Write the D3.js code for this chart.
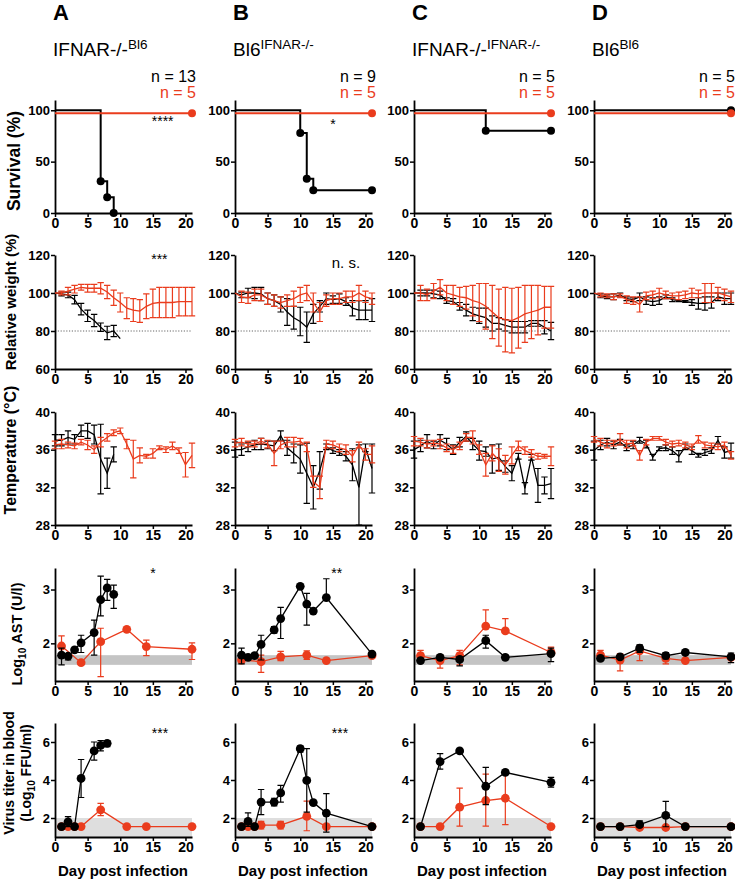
<!DOCTYPE html>
<html lang="en">
  <head>
    <meta charset="utf-8" />
    <script src="https://d3js.org/d3.v7.min.js"></script>
    <style>
      body { margin: 0; background: #fff; }
      text { font-family: "Liberation Sans", Arial, sans-serif; }
    </style>
  </head>
  <body>
    <script>
      // ---------- data ----------
      let letters = ["A", "B", "C", "D"];
      let titleMain = ["IFNAR-/-", "Bl6", "IFNAR-/-", "Bl6"];
      let titleSup = ["Bl6", "IFNAR-/-", "IFNAR-/-", "Bl6"];
      let nBlack = [13, 9, 5, 5];
      let nRed = [5, 5, 5, 5];
      let dayTicks = [0, 5, 10, 15, 20];

      // survival (Kaplan-Meier steps)
      let survDaysBlack = [[0, 7, 8, 9], [0, 10, 11, 12, 21], [0, 11, 21], [0, 21]];
      let survBlack = [[100, 30.8, 15.4, 0], [100, 77.8, 33.3, 22.2, 22.2], [100, 80, 80], [100, 100]];
      let survDaysRed = [[0, 21], [0, 21], [0, 21], [0, 21]];
      let survRed = [[97, 97], [97, 97], [97, 97], [97, 97]];

      // relative weight (%), days 0..21
      let weightDays = [0, 1, 2, 3, 4, 5, 6, 7, 8, 9, 10, 11, 12, 13, 14, 15, 16, 17, 18, 19, 20, 21];
      let weightBlack = [
        [100, 99.5, 99, 96.5, 91.5, 88, 85.5, 82, 79, 80, 76],
        [100, 99, 100, 100, 99.5, 97, 96, 94, 90, 87, 85, 82, 89, 93, 97, 96.5, 97, 95.5, 92, 91, 91, 91],
        [100, 100, 100, 99.5, 99, 96, 95.5, 93, 91, 89, 88, 87, 84, 84, 83, 82, 82, 82, 84, 84, 82, 80],
        [100, 98.5, 98, 98, 99, 97, 96.5, 98, 96, 95.5, 96, 98, 96.5, 96, 95.5, 95, 94.5, 94.5, 95, 98, 97, 97]
      ];
      let weightBlackSd = [
        [0, 1, 1.5, 2.2, 3, 3, 3.2, 2.2, 3.5, 3, 0],
        [0, 1.5, 2.5, 3, 3.5, 3, 3, 4, 7, 6, 7.5, 8, 5, 3, 3, 2, 2.5, 2, 4, 5, 5, 6],
        [0, 1.5, 1.5, 2, 2, 1.5, 1.5, 2, 3, 3.5, 4, 5, 4, 3, 3, 3, 3, 3, 1.5, 1.5, 3.5, 4.5],
        [0, 1, 1, 1.5, 1, 1, 1, 2, 2, 2, 2, 1, 1, 0.5, 0.5, 1.5, 3, 3.5, 3, 2, 3, 3]
      ];
      let weightRed = [
        [100, 100, 101, 102, 103, 102.5, 102.5, 102.5, 100.5, 97.5, 95, 92, 91, 90.5, 93, 94.5, 95, 95, 95, 95.5, 95.5, 95.5],
        [100, 98, 97.5, 99, 99, 97, 96, 95, 96, 97, 99, 100, 95, 90, 96, 97, 97, 98, 98, 100, 98, 97],
        [100, 100, 99, 101, 103, 100, 99, 98, 97.5, 96, 95, 93, 90, 87, 86, 85.5, 87, 89, 90, 91, 92.5, 92.5],
        [100, 99, 98.5, 98, 98.5, 96.5, 96, 94, 98.5, 99, 100, 99, 98.5, 98.5, 99, 100, 99.5, 100, 100, 100, 99, 98]
      ];
      let weightRedSd = [
        [0, 1, 2, 2, 1.5, 2, 2, 3, 3.5, 4, 5, 5.5, 6, 6, 6.5, 7.5, 8, 8, 8, 7.5, 7.5, 7.5],
        [0, 3, 3, 3, 3, 3, 3, 3, 3, 4, 4, 4, 5, 5, 3, 3, 3, 3, 3, 4, 3, 3],
        [0, 4, 3, 4, 4, 4, 5, 5, 6, 8, 10, 12, 14, 15, 17, 17, 16, 15, 14, 13, 11, 11],
        [0, 1, 1, 1.5, 1, 2, 2, 4, 2, 2, 2.5, 2, 1.5, 2, 2, 2.5, 2, 5, 5, 3, 3, 3]
      ];

      // temperature (°C), days 0..21
      let tempBlack = [
        [37.0, 37.0, 37.3, 37.1, 38.0, 38.0, 37.6, 35.0, 33.5, 35.5],
        [36.0, 36.0, 36.3, 36.5, 36.6, 36.5, 36.4, 37.5, 36.2, 35.6, 35.0, 33.5, 32.0, 33.8, 36.3, 35.9, 35.7, 35.3, 34.4, 32.0, 36.2, 34.0],
        [36.0, 36.4, 36.9, 36.5, 37.0, 36.6, 36.0, 36.8, 37.4, 36.6, 35.9, 35.8, 35.0, 35.2, 34.2, 33.5, 35.3, 31.9, 35.2, 32.2, 32.2, 32.4],
        [35.9, 36.5, 36.8, 36.5, 36.8, 36.2, 36.5, 37.0, 36.6, 35.2, 36.1, 36.2, 35.9, 35.3, 36.3, 35.9, 35.4, 35.7, 35.9, 37.0, 35.7, 35.9]
      ];
      let tempBlackSd = [
        [0.6, 0.6, 0.7, 0.5, 0.6, 0.8, 1.0, 3.7, 1.6, 0.8],
        [0.8, 0.6, 0.5, 0.5, 0.6, 0.4, 0.5, 0.5, 0.8, 1.0, 1.5, 3.2, 2.3, 2.0, 0.3, 0.3, 0.3, 0.5, 1.7, 4.5, 0.4, 2.6],
        [0.9, 0.6, 0.7, 0.4, 0.6, 0.6, 0.5, 0.5, 0.5, 0.6, 1.0, 0.5, 1.5, 1.4, 0.6, 0.8, 0.3, 0.6, 0.3, 1.8, 0.9, 1.6],
        [1.0, 0.5, 0.4, 0.4, 0.3, 0.3, 0.4, 0.3, 0.4, 0.3, 0.2, 0.3, 0.4, 0.6, 0.3, 0.4, 0.2, 0.3, 0.3, 0.4, 0.6, 0.8]
      ];
      let tempRed = [
        [36.5, 36.6, 36.5, 36.4, 36.8, 36.5, 36.0, 36.8, 37.3, 37.8, 38.0, 36.6, 35.0, 35.4, 35.3, 35.6, 36.2, 36.0, 36.4, 35.9, 34.4, 35.4],
        [36.7, 36.8, 36.6, 36.6, 36.9, 36.6, 35.6, 36.5, 36.8, 36.8, 36.9, 36.3, 32.6, 32.0, 36.6, 36.5, 36.2, 36.0, 35.3, 36.5, 35.5, 35.5],
        [36.9, 36.8, 36.6, 36.7, 36.6, 36.2, 36.0, 36.4, 37.3, 37.3, 36.0, 34.4, 35.6, 34.9, 34.4, 35.4, 36.4, 35.9, 35.6, 35.3, 35.3, 35.3],
        [37.1, 36.8, 36.6, 36.7, 37.1, 36.6, 36.7, 35.4, 36.8, 37.2, 37.2, 36.8, 36.6, 36.7, 36.5, 36.3, 37.1, 36.5, 36.4, 36.3, 36.5, 35.4]
      ];
      let tempRedSd = [
        [0.4, 0.5, 0.3, 0.3, 0.3, 0.5, 0.4, 0.5, 0.4, 0.3, 0.3, 0.5, 2.0, 0.8, 0.2, 0.5, 0.2, 0.3, 0.4, 0.3, 1.3, 1.3],
        [0.4, 0.4, 0.3, 0.3, 0.3, 0.4, 1.3, 0.4, 0.5, 0.5, 0.3, 0.5, 0.6, 1.2, 0.4, 0.4, 0.4, 0.5, 0.6, 0.3, 0.6, 0.9],
        [0.5, 0.4, 0.4, 0.3, 0.5, 0.4, 0.4, 0.4, 0.4, 0.7, 0.5, 1.2, 0.8, 1.2, 1.0, 0.9, 0.5, 0.4, 0.4, 0.3, 0.2, 1.0],
        [0.3, 0.4, 0.4, 0.3, 0.6, 0.4, 0.3, 0.5, 0.3, 0.2, 0.2, 0.3, 0.3, 0.3, 0.3, 0.3, 0.4, 0.3, 0.3, 0.3, 0.3, 0.4]
      ];

      // Log10 AST (U/l)
      let astDaysBlack = [[1, 2, 3, 4, 6, 7, 8, 9], [1, 2, 3, 4, 6, 7, 10, 11, 12, 14, 21], [1, 4, 7, 11, 14, 21], [1, 4, 7, 11, 14, 21]];
      let astBlack = [
        [1.78, 1.76, 1.88, 2.01, 2.2, 2.81, 3.03, 2.91],
        [1.78, 1.74, 1.77, 1.98, 2.25, 2.46, 3.06, 2.73, 2.6, 2.85, 1.8],
        [1.68, 1.74, 1.7, 2.05, 1.74, 1.81],
        [1.72, 1.75, 1.91, 1.77, 1.83, 1.75]
      ];
      let astBlackUp = [
        [0.13, 0.05, 0, 0.14, 0.23, 0.44, 0.16, 0.17],
        [0.13, 0.03, 0, 0.17, 0.06, 0.21, 0, 0.2, 0, 0.35, 0.03],
        [0, 0, 0.05, 0.1, 0, 0.1],
        [0, 0, 0.06, 0.06, 0, 0.07]
      ];
      let astBlackDn = [
        [0.18, 0.07, 0, 0.18, 0.42, 0.3, 0.23, 0.26],
        [0.16, 0.03, 0, 0.29, 0.06, 0.37, 0, 0.39, 0, 0, 0.03],
        [0, 0, 0.12, 0.14, 0, 0.15],
        [0, 0, 0.08, 0.06, 0, 0.11]
      ];
      let astDaysRed = [1, 4, 7, 11, 14, 21];
      let astRed = [
        [1.95, 1.64, 2.03, 2.26, 1.94, 1.89],
        [1.69, 1.66, 1.75, 1.78, 1.68, 1.77],
        [1.77, 1.68, 1.77, 2.32, 2.23, 1.83],
        [1.78, 1.69, 1.86, 1.72, 1.68, 1.74]
      ];
      let astRedUp = [
        [0.19, 0, 0.25, 0, 0.12, 0.12],
        [0.1, 0.12, 0.1, 0.08, 0, 0.02],
        [0.1, 0.1, 0.1, 0.3, 0.23, 0.1],
        [0.09, 0.12, 0.08, 0.09, 0, 0]
      ];
      let astRedDn = [
        [0.2, 0, 0.65, 0, 0.17, 0.19],
        [0.05, 0.2, 0.07, 0.08, 0, 0.02],
        [0.1, 0.14, 0.17, 0, 0, 0],
        [0.09, 0.2, 0.18, 0.1, 0, 0]
      ];
      let astLimit = [1.6, 1.78];

      // virus titer (Log10 FFU/ml)
      let virDaysBlack = [[1, 2, 3, 4, 6, 7, 8], [1, 2, 3, 4, 6, 7, 10, 11, 12, 14, 21], [1, 4, 7, 11, 14, 21], [1, 4, 7, 11, 14, 21]];
      let virBlack = [
        [1.55, 1.8, 1.55, 4.08, 5.53, 5.82, 5.93],
        [1.55, 1.82, 1.55, 2.84, 2.84, 3.32, 5.65, 3.98, 2.81, 2.26, 1.55],
        [1.55, 4.97, 5.53, 3.67, 4.4, 3.88],
        [1.55, 1.55, 1.65, 2.14, 1.55, 1.55]
      ];
      let virBlackUp = [
        [0, 0.27, 0, 1.0, 0.47, 0.26, 0.12],
        [0, 0.45, 0, 0.66, 0.2, 0.4, 0.14, 1.67, 0, 1.02, 0],
        [0, 0.42, 0, 0.99, 0, 0.26],
        [0, 0, 0.2, 0.73, 0, 0]
      ];
      let virBlackDn = [
        [0, 0.25, 0, 1.0, 0.48, 0.29, 0.18],
        [0, 0.26, 0, 0.66, 0.2, 0.48, 0.18, 1.67, 0, 1.0, 0],
        [0, 0.4, 0, 0.97, 0, 0.26],
        [0, 0, 0.1, 0.6, 0, 0]
      ];
      let virDaysRed = [[1, 2, 3, 4, 7, 11, 14, 21], [1, 2, 3, 4, 7, 11, 14, 21], [1, 4, 7, 11, 14, 21], [1, 4, 7, 11, 14, 21]];
      let virRed = [
        [1.55, 1.55, 1.55, 1.55, 2.43, 1.55, 1.55, 1.55],
        [1.55, 1.55, 1.55, 1.62, 1.62, 2.09, 1.55, 1.55],
        [1.55, 1.55, 2.57, 2.92, 3.04, 1.55],
        [1.55, 1.55, 1.5, 1.5, 1.55, 1.55]
      ];
      let virRedUp = [
        [0, 0, 0, 0, 0.34, 0, 0, 0],
        [0, 0, 0, 0.2, 0.2, 0.8, 0, 0],
        [0, 0, 1.0, 1.39, 1.36, 0],
        [0, 0, 0.1, 0.1, 0, 0]
      ];
      let virRedDn = [
        [0, 0, 0, 0, 0.31, 0, 0, 0],
        [0, 0, 0, 0.2, 0.2, 0.76, 0, 0],
        [0, 0, 1.0, 1.35, 1.39, 0],
        [0, 0, 0.1, 0.1, 0, 0]
      ];
      let virLimit = [1, 2];

      // significance marks
      let sigSurv = ["****", "*", "", ""];
      let sigWeight = ["***", "n. s.", "", ""];
      let sigAst = ["*", "**", "", ""];
      let sigVir = ["***", "***", "", ""];

      // ---------- layout ----------
      let w = 735;
      let h = 882;
      let colX = [55, 235, 414, 594];
      let plotW = 137;
      let black = "#000";
      let red = "#ea3c1d";

      let rows = {
        surv: { top: 100, bottom: 213, domain: [0, 110], ticks: [0, 50, 100] },
        weight: { top: 255, bottom: 369, domain: [60, 120], ticks: [60, 80, 100, 120] },
        temp: { top: 412, bottom: 525, domain: [28, 40], ticks: [28, 32, 36, 40] },
        ast: { top: 568, bottom: 681, domain: [1.3, 3.4], ticks: [2, 3] },
        vir: { top: 723, bottom: 837, domain: [1, 7], ticks: [2, 4, 6] }
      };

      let svg = d3.select("body").append("svg").attr("width", w).attr("height", h);

      let layerBack = svg.append("g");
      let layerAxes = svg.append("g");
      let layerData = svg.append("g");
      let layerText = svg.append("g");

      function makeX(i) {
        return d3.scaleLinear().domain([0, 21]).range([colX[i], colX[i] + plotW]);
      }
      function makeY(r) {
        return d3.scaleLinear().domain(r.domain).range([r.bottom, r.top]).clamp(true);
      }

      function drawAxes(i, r, x, y) {
        let gx = layerAxes
          .append("g")
          .attr("transform", "translate(0," + r.bottom + ")")
          .call(d3.axisBottom(x).tickValues(dayTicks).tickFormat(d3.format("d"))
            .tickSize(4).tickPadding(1).tickSizeOuter(0));
        let gy = layerAxes
          .append("g")
          .attr("transform", "translate(" + colX[i] + ",0)")
          .call(d3.axisLeft(y).tickValues(r.ticks).tickFormat(d3.format("d"))
            .tickSize(4).tickPadding(1).tickSizeOuter(0));
        [gx, gy].forEach((g) => {
          g.attr("font-family", null).attr("font-weight", "bold");
          g.select(".domain").attr("stroke-width", 1.8).attr("stroke", black);
          g.selectAll(".tick line").attr("stroke-width", 1.5).attr("stroke", black);
          g.selectAll(".tick text").attr("fill", black);
        });
        gx.attr("font-size", 14);
        gy.attr("font-size", 13);
      }

      // one series: line + error bars (+ optional dots)
      function drawSeries(x, y, days, vals, up, dn, color, dots) {
        let pts = vals.map((v, k) => ({ d: days[k], v: v, u: up ? up[k] : 0, l: dn ? dn[k] : 0 }));
        let g = layerData.append("g");

        g.selectAll("path.err")
          .data(pts.filter((p) => p.u > 0 || p.l > 0))
          .join("path")
          .attr("class", "err")
          .attr("fill", "none")
          .attr("stroke", color)
          .attr("stroke-width", 1.2)
          .attr("d", (p) => {
            let cx = x(p.d);
            let y1 = y(p.v + p.u);
            let y2 = y(p.v - p.l);
            let s = "M" + cx + "," + y1 + "L" + cx + "," + y2;
            if (p.u > 0) s += "M" + (cx - 3.2) + "," + y1 + "L" + (cx + 3.2) + "," + y1;
            if (p.l > 0) s += "M" + (cx - 3.2) + "," + y2 + "L" + (cx + 3.2) + "," + y2;
            return s;
          });

        g.append("path")
          .datum(pts)
          .attr("fill", "none")
          .attr("stroke", color)
          .attr("stroke-width", 1.3)
          .attr("d", d3.line().x((p) => x(p.d)).y((p) => y(p.v)));

        if (dots) {
          g.selectAll("circle")
            .data(pts)
            .join("circle")
            .attr("cx", (p) => x(p.d))
            .attr("cy", (p) => y(p.v))
            .attr("r", 4.4)
            .attr("fill", color);
        }
      }

      function drawSurv(x, y, days, vals, color) {
        let pts = vals.map((v, k) => ({ d: days[k], v: v }));
        let g = layerData.append("g");
        g.append("path")
          .datum(pts)
          .attr("fill", "none")
          .attr("stroke", color)
          .attr("stroke-width", 2)
          .attr("d", d3.line().curve(d3.curveStepAfter).x((p) => x(p.d)).y((p) => y(p.v)));
        g.selectAll("circle")
          .data(pts.slice(1))
          .join("circle")
          .attr("cx", (p) => x(p.d))
          .attr("cy", (p) => y(p.v))
          .attr("r", 4)
          .attr("fill", color);
      }

      function sig(x, day, yPos, txt, size) {
        if (!txt) return;
        layerText
          .append("text")
          .attr("x", x(day))
          .attr("y", yPos)
          .attr("text-anchor", "middle")
          .attr("font-size", size)
          .text(txt);
      }

      for (let i = 0; i < 4; i++) {
        let x = makeX(i);

        // header
        layerText.append("text")
          .attr("x", colX[i] - 2).attr("y", 20)
          .attr("font-size", 22).attr("font-weight", "bold")
          .text(letters[i]);
        let t = layerText.append("text").attr("x", colX[i] - 2).attr("y", 56).attr("font-size", 19);
        t.append("tspan").text(titleMain[i]);
        t.append("tspan").attr("font-size", 13.5).attr("dy", -7).text(titleSup[i]);
        layerText.append("text")
          .attr("x", colX[i] + 141).attr("y", 82)
          .attr("text-anchor", "end").attr("font-size", 16)
          .text("n = " + nBlack[i]);
        layerText.append("text")
          .attr("x", colX[i] + 141).attr("y", 98)
          .attr("text-anchor", "end").attr("font-size", 16).attr("fill", red)
          .text("n = " + nRed[i]);

        // survival
        let ys = makeY(rows.surv);
        drawAxes(i, rows.surv, x, ys);
        drawSurv(x, ys, survDaysBlack[i], survBlack[i], black);
        drawSurv(x, ys, survDaysRed[i], survRed[i], red);
        sig(x, i === 0 ? 16.5 : 15, i === 0 ? 126 : 129, sigSurv[i], 14);

        // weight
        let yw = makeY(rows.weight);
        layerBack.append("line")
          .attr("x1", x(0)).attr("x2", x(21))
          .attr("y1", yw(80)).attr("y2", yw(80))
          .attr("stroke", "#666").attr("stroke-width", 1).attr("stroke-dasharray", "1.2,1.6");
        drawAxes(i, rows.weight, x, yw);
        drawSeries(x, yw, weightDays.slice(0, weightBlack[i].length), weightBlack[i], weightBlackSd[i], weightBlackSd[i], black, false);
        drawSeries(x, yw, weightDays, weightRed[i], weightRedSd[i], weightRedSd[i], red, false);
        if (i === 0) sig(x, 16, 264, sigWeight[i], 14);
        if (i === 1) sig(x, 17, 268, sigWeight[i], 15);

        // temperature
        let yt = makeY(rows.temp);
        drawAxes(i, rows.temp, x, yt);
        drawSeries(x, yt, weightDays.slice(0, tempBlack[i].length), tempBlack[i], tempBlackSd[i], tempBlackSd[i], black, false);
        drawSeries(x, yt, weightDays, tempRed[i], tempRedSd[i], tempRedSd[i], red, false);

        // AST
        let ya = makeY(rows.ast);
        layerBack.append("rect")
          .attr("x", x(0)).attr("width", x(21) - x(0))
          .attr("y", ya(astLimit[1])).attr("height", ya(astLimit[0]) - ya(astLimit[1]))
          .attr("fill", "#c4c4c4");
        drawAxes(i, rows.ast, x, ya);
        drawSeries(x, ya, astDaysRed, astRed[i], astRedUp[i], astRedDn[i], red, true);
        drawSeries(x, ya, astDaysBlack[i], astBlack[i], astBlackUp[i], astBlackDn[i], black, true);
        sig(x, i === 0 ? 15 : 15.6, 578, sigAst[i], 14);

        // virus titer
        let yv = makeY(rows.vir);
        layerBack.append("rect")
          .attr("x", x(0)).attr("width", x(21) - x(0))
          .attr("y", yv(virLimit[1])).attr("height", yv(virLimit[0]) - yv(virLimit[1]))
          .attr("fill", "#dedede");
        drawAxes(i, rows.vir, x, yv);
        drawSeries(x, yv, virDaysRed[i], virRed[i], virRedUp[i], virRedDn[i], red, true);
        drawSeries(x, yv, virDaysBlack[i], virBlack[i], virBlackUp[i], virBlackDn[i], black, true);
        sig(x, 16.1, 738, sigVir[i], 14);

        layerText.append("text")
          .attr("x", colX[i] + 68).attr("y", 876)
          .attr("text-anchor", "middle").attr("font-size", 15).attr("font-weight", "bold")
          .text("Day post infection");
      }

      // row titles (rotated)
      function yLabel(cx, cy, size) {
        return layerText.append("text")
          .attr("transform", "translate(" + cx + "," + cy + ") rotate(-90)")
          .attr("text-anchor", "middle")
          .attr("font-size", size)
          .attr("font-weight", "bold");
      }
      yLabel(20, 161, 17.5).text("Survival (%)");
      yLabel(16, 302, 15).text("Relative weight (%)");
      yLabel(16, 450, 16).text("Temperature (°C)");
      let ast = yLabel(22, 634, 14.5);
      ast.append("tspan").text("Log");
      ast.append("tspan").attr("font-size", 10).attr("dy", 4).text("10");
      ast.append("tspan").attr("dy", -4).text("\u00a0AST (U/l)");
      yLabel(14, 773, 14).text("Virus titer in blood");
      let vl = yLabel(31, 773, 14);
      vl.append("tspan").text("(Log");
      vl.append("tspan").attr("font-size", 10).attr("dy", 4).text("10");
      vl.append("tspan").attr("dy", -4).text("\u00a0FFU/ml)");
    </script>
  </body>
</html>
